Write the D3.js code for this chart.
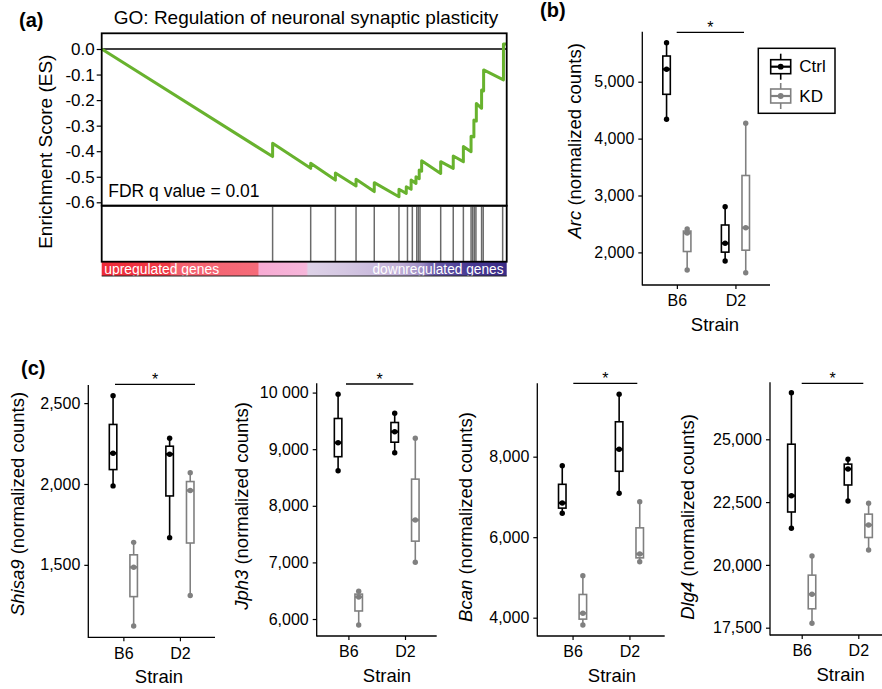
<!DOCTYPE html>
<html><head><meta charset="utf-8">
<script src="https://cdn.jsdelivr.net/npm/d3@7"></script>
<style>
body{margin:0;background:#fff}
svg{display:block}
text{font-family:"Liberation Sans",Arial,Helvetica,sans-serif;fill:#000}
</style>
</head><body>
<svg id="fig" width="882" height="689"></svg>
<script>
// ================= DATA =================
// Panel (a): GSEA running enrichment score
const esTitle = "GO: Regulation of neuronal synaptic plasticity";
const esYLabel = "Enrichment Score (ES)";
const fdrLabel = "FDR q value = 0.01";
// vertices of the running ES curve: rank position (% of ranked list) and ES
const esRank  = [0, 42.2, 42.2, 51.6, 51.6, 57.7, 57.7, 62.8, 62.8, 67.3, 67.3,
                 73.4, 73.4, 75.2, 75.2, 76.4, 76.4, 77.6, 77.6, 78.4, 78.4, 79.0, 79.0,
                 83.7, 83.7, 86.8, 86.8, 89.3, 89.3, 91.2, 91.2, 91.9, 91.9, 92.5, 92.5,
                 93.8, 93.8, 94.3, 94.3, 99.2, 99.2, 100];
const esScore = [0, -0.421, -0.369, -0.467, -0.447, -0.513, -0.485, -0.536, -0.510, -0.558, -0.523,
                 -0.578, -0.549, -0.565, -0.539, -0.549, -0.513, -0.526, -0.500, -0.508, -0.474, -0.478, -0.437,
                 -0.487, -0.441, -0.467, -0.419, -0.441, -0.382, -0.402, -0.341, -0.344, -0.278, -0.282, -0.213,
                 -0.232, -0.160, -0.164, -0.082, -0.121, 0.020, 0.020];
// gene set hits along the ranked list (%)
const hitRanks = [42.2, 51.6, 57.7, 62.8, 67.3, 73.4, 75.5, 76.7, 77.8, 78.2, 78.6,
                  83.7, 86.8, 89.3, 91.2, 91.6, 92.0, 92.4, 93.8, 94.2, 99.0];
const esTicks = [0, -0.1, -0.2, -0.3, -0.4, -0.5, -0.6];
const rankBarLabels = ["upregulated genes", "downregulated genes"];
const rankBarStops = [
  [0.000, "#ee2a38"], [0.168, "#f03a47"], [0.172, "#f4606e"], [0.385, "#f56b79"],
  [0.389, "#f7abd3"], [0.505, "#f6b6da"], [0.510, "#ddd2e7"], [0.600, "#d4c7e2"],
  [0.735, "#c2b1d8"], [0.790, "#9f8ec5"], [0.820, "#6a5ba9"], [0.900, "#4a3c95"],
  [1.000, "#3a2b86"]
];

// Panels (b) and (c): normalized counts, three replicates per group
const strains = ["B6", "D2"];
const groups = ["Ctrl", "KD"];
// order of each array: [B6 Ctrl, B6 KD, D2 Ctrl, D2 KD]
const arcCounts    = [[4339, 5218, 5685], [1691, 2340, 2410], [1849, 2160, 2803], [1643, 2434, 4269]];
const shisa9Counts = [[1988, 2190, 2546], [1122, 1485, 1639], [1668, 2184, 2283], [1310, 1960, 2070]];
const jph3Counts   = [[8620, 9115, 9970], [5894, 6390, 6490], [8938, 9309, 9634], [7002, 7749, 9193]];
const bcanCounts   = [[6594, 6850, 7777], [3819, 4109, 5044], [7091, 8184, 9550], [5391, 5582, 6882]];
const dlg4Counts   = [[21457, 22755, 26855], [17675, 18830, 20354], [22544, 23818, 24204], [20593, 21588, 22452]];
const arcTicks    = [2000, 3000, 4000, 5000];
const shisa9Ticks = [1500, 2000, 2500];
const jph3Ticks   = [6000, 7000, 8000, 9000, 10000];
const jph3TickLabels = ["6,000", "7,000", "8,000", "9,000", "10 000"];
const bcanTicks   = [4000, 6000, 8000];
const dlg4Ticks   = [17500, 20000, 22500, 25000];
const xTitle = "Strain";
const yTitleSuffix = " (normalized counts)";
const sigMark = "*";

// ================= DRAWING =================
const svg = d3.select("#fig");
svg.append("rect").attr("width", 882).attr("height", 689).attr("fill", "#fff");
const FONT = '"Liberation Sans",Arial,Helvetica,sans-serif';

// ---------- Panel (a) ----------
(function(){
  const L = 101.7, R = 506.7, T = 33.3, B1 = 205.7, B2 = 261.7, B3 = 276;
  const x = d3.scaleLinear().domain([0, 100]).range([L, R]);
  const y = d3.scaleLinear().domain([-0.6, 0]).range([202.3, 49]);
  const g = svg.append("g");

  // rank-metric colour bar
  const grad = svg.append("defs").append("linearGradient").attr("id", "rankgrad")
    .attr("x1", "0%").attr("x2", "100%").attr("y1", "0%").attr("y2", "0%");
  rankBarStops.forEach(s => grad.append("stop").attr("offset", s[0]).attr("stop-color", s[1]));
  g.append("rect").attr("x", L).attr("y", B2).attr("width", R - L).attr("height", B3 - B2)
    .attr("fill", "url(#rankgrad)");
  g.append("text").attr("x", L + 2.5).attr("y", 273.6).attr("font-size", 14).style("fill", "#fff")
    .attr("textLength", 115).attr("lengthAdjust", "spacingAndGlyphs").text(rankBarLabels[0]);
  g.append("text").attr("x", 372.5).attr("y", 273.6).attr("font-size", 14)
    .attr("textLength", 131).attr("lengthAdjust", "spacingAndGlyphs")
    .style("fill", "#fff").text(rankBarLabels[1]);

  // hits
  g.selectAll("line.hit").data(hitRanks).join("line").attr("class", "hit")
    .attr("x1", d => x(d)).attr("x2", d => x(d)).attr("y1", B1 + 1).attr("y2", B2 - 0.5)
    .attr("stroke", "#6a6a6a").attr("stroke-width", 1.5);

  // zero line
  g.append("line").attr("x1", L).attr("x2", R).attr("y1", y(0)).attr("y2", y(0))
    .attr("stroke", "#000").attr("stroke-width", 1.5);

  // ES curve
  const pts = esRank.map((r, i) => [r, esScore[i]]);
  g.append("path").datum(pts)
    .attr("d", d3.line().x(d => x(d[0])).y(d => y(d[1])))
    .attr("fill", "none").attr("stroke", "#68b22e").attr("stroke-width", 3)
    .attr("stroke-linejoin", "round").attr("stroke-linecap", "butt");

  // frames
  g.append("rect").attr("x", L).attr("y", T).attr("width", R - L).attr("height", B1 - T)
    .attr("fill", "none").attr("stroke", "#000").attr("stroke-width", 1.8);
  g.append("rect").attr("x", L).attr("y", B1).attr("width", R - L).attr("height", B2 - B1)
    .attr("fill", "none").attr("stroke", "#000").attr("stroke-width", 1.8);
  g.append("line").attr("x1", L).attr("x2", R).attr("y1", B3).attr("y2", B3)
    .attr("stroke", "#222").attr("stroke-width", 1);

  // y axis
  const ax = g.append("g").attr("transform", `translate(${L},0)`)
    .call(d3.axisLeft(y).tickValues(esTicks).tickSize(5).tickPadding(2)
      .tickFormat(d => d.toFixed(1).replace("-0.0", "0.0")));
  ax.select(".domain").remove();
  ax.selectAll(".tick line").attr("stroke", "#000").attr("stroke-width", 1.2);
  ax.selectAll("text").attr("font-size", 17).attr("font-family", FONT).style("fill", "#000");

  g.append("text").attr("x", 108.3).attr("y", 197.3).attr("font-size", 17.5).text(fdrLabel);
  g.append("text").attr("x", 306).attr("y", 24.3).attr("font-size", 19).attr("text-anchor", "middle").text(esTitle);
  g.append("text").attr("transform", "translate(51.5,151.7) rotate(-90)").attr("font-size", 19)
    .attr("text-anchor", "middle").text(esYLabel);
  g.append("text").attr("x", 19).attr("y", 26.7).attr("font-size", 20).attr("font-weight", "bold").text("(a)");
})();

// ---------- Box plot panels ----------
const groupColor = d3.scaleOrdinal().domain(groups).range(["#000000", "#808080"]);

function boxPanel(cfg){
  const g = svg.append("g");
  const y = d3.scaleLinear().domain(cfg.domain).range(cfg.yRange);
  const x = d3.scalePoint().domain(strains).range(cfg.xRange).padding(cfg.pad);
  const dodge = d3.scalePoint().domain(groups).range([-10.3, 10.3]);
  const bw = 7.5;
  const [yBot, yTop] = cfg.yRange;

  const recs = [];
  strains.forEach((s, si) => groups.forEach((gr, gi) => {
    const v = cfg.values[si * 2 + gi].slice().sort(d3.ascending);
    recs.push({strain: s, group: gr, v,
      q1: d3.quantile(v, 0.25), med: d3.quantile(v, 0.5), q3: d3.quantile(v, 0.75),
      lo: d3.min(v), hi: d3.max(v), cx: x(s) + dodge(gr)});
  }));

  const bx = g.selectAll("g.box").data(recs).join("g").attr("class", "box");
  bx.append("line").attr("x1", d => d.cx).attr("x2", d => d.cx)
    .attr("y1", d => y(d.lo)).attr("y2", d => y(d.hi))
    .attr("stroke", d => groupColor(d.group)).attr("stroke-width", 1.6);
  bx.append("rect").attr("x", d => d.cx - bw / 2).attr("width", bw)
    .attr("y", d => y(d.q3)).attr("height", d => y(d.q1) - y(d.q3))
    .attr("fill", "#fff").attr("stroke", d => groupColor(d.group)).attr("stroke-width", 1.6);
  bx.append("line").attr("x1", d => d.cx - bw / 2).attr("x2", d => d.cx + bw / 2)
    .attr("y1", d => y(d.med)).attr("y2", d => y(d.med))
    .attr("stroke", d => groupColor(d.group)).attr("stroke-width", 2.4);
  bx.selectAll("circle").data(d => d.v.map(v => ({v, d}))).join("circle")
    .attr("cx", p => p.d.cx).attr("cy", p => y(p.v)).attr("r", 2.7)
    .attr("fill", p => groupColor(p.d.group));

  // axes
  const ay = g.append("g").attr("transform", `translate(${cfg.xRange[0]},0)`)
    .call(d3.axisLeft(y).tickValues(cfg.ticks).tickSize(4).tickPadding(4)
      .tickFormat((d, i) => cfg.tickLabels ? cfg.tickLabels[i] : d3.format(",")(d)));
  ay.select(".domain").remove();
  g.append("line").attr("x1", cfg.xRange[0]).attr("x2", cfg.xRange[0]).attr("y1", yTop).attr("y2", yBot + 0.6)
    .attr("stroke", "#000").attr("stroke-width", 1.3);
  const axx = g.append("g").attr("transform", `translate(0,${yBot})`)
    .call(d3.axisBottom(x).tickSize(4).tickPadding(6));
  axx.select(".domain").remove();
  g.append("line").attr("x1", cfg.xRange[0]).attr("x2", Math.min(cfg.xRange[1], 882)).attr("y1", yBot).attr("y2", yBot)
    .attr("stroke", "#000").attr("stroke-width", 1.3);
  [ay, axx].forEach(a => {
    a.selectAll(".tick line").attr("stroke", "#000").attr("stroke-width", 1.2);
    a.selectAll("text").attr("font-size", 16).attr("font-family", FONT).style("fill", "#000");
  });

  // titles
  g.append("text").attr("x", cfg.strainX).attr("y", yBot + 45.5).attr("font-size", 18.5)
    .attr("text-anchor", "middle").text(xTitle);
  const t = g.append("text").attr("transform", `translate(${cfg.titleX},${cfg.titleY}) rotate(-90)`)
    .attr("font-size", 18.5).attr("text-anchor", "middle");
  t.append("tspan").attr("font-style", "italic").text(cfg.gene);
  t.append("tspan").text(yTitleSuffix);

  // significance
  g.append("line").attr("x1", cfg.sig[0]).attr("x2", cfg.sig[1]).attr("y1", cfg.sig[2]).attr("y2", cfg.sig[2])
    .attr("stroke", "#000").attr("stroke-width", 1.3);
  g.append("text").attr("x", (cfg.sig[0] + cfg.sig[1]) / 2).attr("y", cfg.sig[2] + 0.5)
    .attr("font-size", 16).attr("text-anchor", "middle").text(sigMark);
  return g;
}

boxPanel({gene: "Arc", values: arcCounts, ticks: arcTicks, domain: [1427, 5879], yRange: [285, 31.7],
  xRange: [642.3, 770], pad: 0.59, titleX: 580.7, titleY: 140.8, strainX: 715, sig: [676.7, 744, 32.3]});
boxPanel({gene: "Shisa9", values: shisa9Counts, ticks: shisa9Ticks, domain: [1052, 2612], yRange: [637.3, 385],
  xRange: [88.3, 215], pad: 0.62, titleX: 24, titleY: 504, strainX: 159, sig: [115, 195, 384.3]});
boxPanel({gene: "Jph3", values: jph3Counts, ticks: jph3Ticks, tickLabels: jph3TickLabels, domain: [5700, 10164],
  yRange: [636, 383.3], xRange: [316.7, 436.7], pad: 0.56, titleX: 247.7, titleY: 506, strainX: 387, sig: [346, 413.3, 384]});
boxPanel({gene: "Bcan", values: bcanCounts, ticks: bcanTicks, domain: [3545, 9823], yRange: [636, 383.3],
  xRange: [537.3, 664.7], pad: 0.62, titleX: 472.3, titleY: 517, strainX: 612, sig: [573.3, 637.3, 383.3]});
boxPanel({gene: "Dlg4", values: dlg4Counts, ticks: dlg4Ticks, domain: [17209, 27269], yRange: [635, 382.3],
  xRange: [770, 890], pad: 0.56, titleX: 694, titleY: 517, strainX: 840.7, sig: [801.7, 863.3, 383.3]});

// legend for (b)
(function(){
  const g = svg.append("g");
  g.append("rect").attr("x", 758.3).attr("y", 48.3).attr("width", 76.7).attr("height", 65)
    .attr("fill", "#fff").attr("stroke", "#000").attr("stroke-width", 1.5);
  const ly = d3.scalePoint().domain(groups).range([66.7, 96]);
  const items = g.selectAll("g.li").data(groups).join("g").attr("class", "li")
    .attr("transform", d => `translate(780.7,${ly(d)})`);
  items.append("line").attr("y1", -13).attr("y2", 13).attr("stroke", d => groupColor(d)).attr("stroke-width", 1.6);
  items.append("rect").attr("x", -10).attr("y", -7).attr("width", 20).attr("height", 14)
    .attr("fill", "#fff").attr("stroke", d => groupColor(d)).attr("stroke-width", 1.6);
  items.append("line").attr("x1", -10).attr("x2", 10).attr("stroke", d => groupColor(d)).attr("stroke-width", 2.2);
  items.append("circle").attr("r", 2.9).attr("fill", d => groupColor(d));
  items.append("text").attr("x", 18.6).attr("y", 5.5).attr("font-size", 17).text(d => d);
})();

svg.append("text").attr("x", 540).attr("y", 16.5).attr("font-size", 20).attr("font-weight", "bold").text("(b)");
svg.append("text").attr("x", 21).attr("y", 375).attr("font-size", 20).attr("font-weight", "bold").text("(c)");
</script>
</body></html>
